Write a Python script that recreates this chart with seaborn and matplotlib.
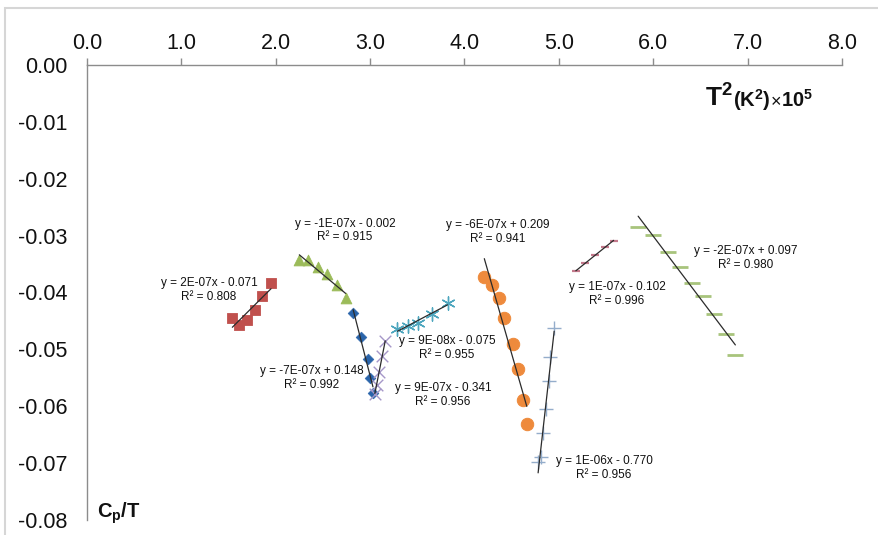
import numpy as np
import matplotlib
matplotlib.use("Agg")
import matplotlib.pyplot as plt
import seaborn as sns
from matplotlib.patches import Rectangle

sns.set_style("white")
plt.rcParams["font.family"] = ["Liberation Sans", "DejaVu Sans"]
plt.rcParams["mathtext.fontset"] = "custom"
plt.rcParams["mathtext.rm"] = "Liberation Sans"
plt.rcParams["mathtext.it"] = "Liberation Sans:italic"
plt.rcParams["mathtext.bf"] = "Liberation Sans:bold"

# T^2 in units of 1e5 K^2 and Cp/T for each temperature segment
red_x = [1.54, 1.61, 1.70, 1.78, 1.85, 1.95]
red_y = [-0.0444, -0.0457, -0.0448, -0.0430, -0.0407, -0.0384]

tri_x = [2.25, 2.34, 2.45, 2.54, 2.65, 2.74]
tri_y = [-0.0343, -0.0343, -0.0355, -0.0368, -0.0387, -0.0410]

dia_x = [2.82, 2.90, 2.98, 3.00, 3.03]
dia_y = [-0.0436, -0.0478, -0.0517, -0.0550, -0.0577]

xm_x = [3.16, 3.13, 3.09, 3.07, 3.05]
xm_y = [-0.0485, -0.0512, -0.0540, -0.0563, -0.0578]

ast_x = [3.29, 3.40, 3.51, 3.66, 3.82]
ast_y = [-0.0464, -0.0459, -0.0454, -0.0438, -0.0418]

org_x = [4.21, 4.29, 4.37, 4.42, 4.51, 4.57, 4.62, 4.66]
org_y = [-0.0373, -0.0387, -0.0410, -0.0445, -0.0491, -0.0535, -0.0589, -0.0631]

pls_x = [4.95, 4.91, 4.90, 4.86, 4.83, 4.81, 4.78]
pls_y = [-0.0462, -0.0513, -0.0556, -0.0605, -0.0647, -0.0689, -0.0698]

pnk_x = [5.18, 5.28, 5.38, 5.49, 5.58]
pnk_y = [-0.0362, -0.0349, -0.0334, -0.0320, -0.0309]

gdash_x = [5.84, 6.00, 6.16, 6.28, 6.41, 6.53, 6.64, 6.77, 6.87]
gdash_y = [-0.0284, -0.0299, -0.0329, -0.0356, -0.0383, -0.0407, -0.0437, -0.0473, -0.0510]

fit_labels = [
    "y = 2E-07x - 0.071\nR² = 0.808",
    "y = -1E-07x - 0.002\nR² = 0.915",
    "y = -7E-07x + 0.148\nR² = 0.992",
    "y = 9E-07x - 0.341\nR² = 0.956",
    "y = 9E-08x - 0.075\nR² = 0.955",
    "y = -6E-07x + 0.209\nR² = 0.941",
    "y = 1E-06x - 0.770\nR² = 0.956",
    "y = 1E-07x - 0.102\nR² = 0.996",
    "y = -2E-07x + 0.097\nR² = 0.980",
]
# where each fit equation is written (data coordinates)
label_pos = [(1.293, -0.0396), (2.734, -0.0291), (2.384, -0.0551),
             (3.772, -0.0580), (3.815, -0.0498), (4.355, -0.0294),
             (5.478, -0.0708), (5.616, -0.0403), (6.983, -0.0339)]

series = [
    (red_x, red_y, dict(marker="s", color="#C0504D", s=55, edgecolor="#C0504D")),
    (tri_x, tri_y, dict(marker="^", color="#9BBB59", s=60, edgecolor="#9BBB59")),
    (dia_x, dia_y, dict(marker="D", color="#2A64AA", s=30, edgecolor="#2A64AA")),
    (xm_x, xm_y, dict(marker="x", color="#A597C8", s=70, linewidth=1.0)),
    (ast_x, ast_y, dict(marker=(6, 2, 0), color="#4DA6BE", s=90, linewidth=1.0)),
    (org_x, org_y, dict(marker="o", color="#EE8A3C", s=80, edgecolor="#EE8A3C")),
    (pls_x, pls_y, dict(marker="+", color="#94ADCB", s=90, linewidth=1.0)),
    (pnk_x, pnk_y, dict(marker="_", color="#C4798C", s=40, linewidth=1.6)),
    (gdash_x, gdash_y, dict(marker="_", color="#A8C47C", s=130, linewidth=2.0)),
]

fig = plt.figure(figsize=(8.79, 5.35), dpi=100)
ax = fig.add_axes([87 / 879, 1 - 520 / 535, (842 - 87) / 879, (520 - 65) / 535])

for (xs, ys, kw), text, (lx, ly) in zip(series, fit_labels, label_pos):
    sns.scatterplot(x=np.array(xs), y=np.array(ys), ax=ax, zorder=2, **kw)
    sns.regplot(x=np.array(xs), y=np.array(ys), ax=ax, scatter=False, ci=None,
                truncate=True, line_kws=dict(color="#2B2B2B", lw=0.9, zorder=3))
    ax.text(lx, ly, text, ha="center", va="center", fontsize=8.5,
            color="#111111", linespacing=1.2, multialignment="center")

ax.set_xlim(0, 8)
ax.set_ylim(-0.08, 0)
ax.set_xlabel("")
ax.set_ylabel("")

xticks = np.arange(0, 9)
ax.set_xticks(xticks)
ax.set_xticklabels([f"{v:.1f}" for v in xticks])
yticks = np.round(np.arange(0, -0.081, -0.01), 2)
ax.set_yticks(yticks)
ax.set_yticklabels([f"{abs(v):.2f}" if v == 0 else f"-{abs(v):.2f}" for v in yticks])

ax.xaxis.tick_top()
for side in ("bottom", "right"):
    ax.spines[side].set_visible(False)
for side in ("top", "left"):
    ax.spines[side].set_color("#8C8C8C")
    ax.spines[side].set_linewidth(1.0)
ax.tick_params(axis="both", direction="out", length=5, width=1, color="#8C8C8C",
               labelsize=15.5, labelcolor="#111111")
ax.tick_params(axis="y", pad=9)
ax.tick_params(axis="x", pad=3)

# axis titles, all pieces sharing one baseline
base = 1 - 107 / 535
t1 = fig.text(705 / 879, base, r"$\mathbf{T^{2}}$", fontsize=19,
              va="baseline", ha="left", color="#111111")
t2 = ax.annotate(r"$\mathbf{(K^{2})}$", xy=(1, base), xycoords=(t1, "figure fraction"),
                 fontsize=14.5, va="baseline", ha="left", color="#111111")
t3 = ax.annotate("×", xy=(1, base), xycoords=(t2, "figure fraction"), fontsize=13,
                 va="baseline", ha="left", color="#111111")
t4 = ax.annotate(r"$\mathbf{10^{5}}$", xy=(1, base), xycoords=(t3, "figure fraction"),
                 fontsize=14.5, va="baseline", ha="left", color="#111111")
fig.text(97 / 879, 1 - 518 / 535, r"$\mathbf{C_{p}/T}$", fontsize=14.5,
         va="baseline", ha="left", color="#111111")

# chart-area frame
fig.patches.append(Rectangle((5 / 879, -0.2), 2, 1.2 - 8 / 535, transform=fig.transFigure,
                             fill=False, edgecolor="#D6D6D6", lw=1.5))

fig.savefig("out.png", dpi=100)
